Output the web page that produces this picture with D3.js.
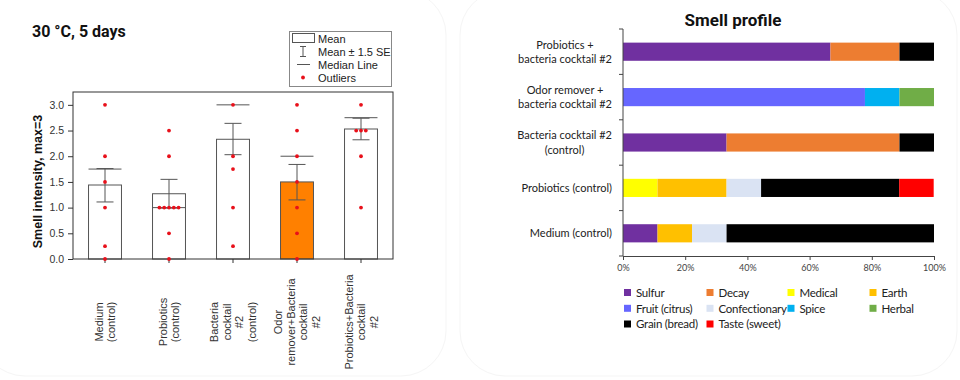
<!DOCTYPE html>
<html><head><meta charset="utf-8">
<script src="https://cdn.jsdelivr.net/npm/d3@7"></script>
<style>
html,body{margin:0;padding:0;background:#fff;}
svg{display:block;}
</style></head>
<body>
<svg id="c" width="960" height="380"></svg>
<script>
// ---------- Left chart data ----------
const boxCategories = ["Medium\n(control)", "Probiotics\n(control)", "Bacteria\ncocktail\n#2\n(control)", "Odor\nremover+Bacteria\ncocktail\n#2", "Probiotics+Bacteria\ncocktail\n#2"];
const boxMeans   = [1.44, 1.27, 2.33, 1.50, 2.53];
const boxSeLow   = [1.11, 0.99, 2.03, 1.15, 2.32];
const boxSeHigh  = [1.76, 1.55, 2.64, 1.84, 2.74];
const boxMedians = [1.75, 1.00, 3.00, 2.00, 2.75];
const boxPoints  = [
  [3.0, 2.0, 1.5, 1.0, 0.25, 0.0],
  [2.5, 2.0, 1.0, 1.0, 1.0, 1.0, 1.0, 0.5, 0.0],
  [3.0, 2.0, 1.75, 1.0, 0.25],
  [3.0, 2.5, 2.0, 1.5, 1.0, 0.5, 0.0],
  [3.0, 2.5, 2.5, 2.5, 2.0, 1.0]
];
const highlightIndex = 3;
const yTicks = [0, 0.5, 1.0, 1.5, 2.0, 2.5, 3.0];
const leftLegend = ["Mean", "Mean ± 1.5 SE", "Median Line", "Outliers"];

// ---------- Right chart data ----------
const profileGroups = ["Probiotics +\nbacteria cocktail #2", "Odor remover +\nbacteria cocktail #2", "Bacteria cocktail #2\n(control)", "Probiotics (control)", "Medium (control)"];
const smellNames  = ["Sulfur", "Decay", "Medical", "Earth", "Fruit (citrus)", "Confectionary", "Spice", "Herbal", "Grain (bread)", "Taste (sweet)"];
const smellColors = ["#7030A0", "#ED7D31", "#FFFF00", "#FFC000", "#6666FF", "#DAE3F3", "#00B0F0", "#70AD47", "#000000", "#FF0000"];
// percentages per group, in smellNames order
const sulfur        = [66.7,  0.0, 33.3,  0.0, 11.1];
const decay         = [22.2,  0.0, 55.6,  0.0,  0.0];
const medical       = [ 0.0,  0.0,  0.0, 11.1,  0.0];
const earth         = [ 0.0,  0.0,  0.0, 22.2, 11.1];
const fruit         = [ 0.0, 77.8,  0.0,  0.0,  0.0];
const confectionary = [ 0.0,  0.0,  0.0, 11.1, 11.1];
const spice         = [ 0.0, 11.1,  0.0,  0.0,  0.0];
const herbal        = [ 0.0, 11.1,  0.0,  0.0,  0.0];
const grain         = [11.1,  0.0, 11.1, 44.4, 66.7];
const taste         = [ 0.0,  0.0,  0.0, 11.1,  0.0];
const xTicksPct = [0, 20, 40, 60, 80, 100];

const svg = d3.select("#c");

// faint background panels
svg.append("rect").attr("x", -20).attr("y", -10).attr("width", 466).attr("height", 386).attr("rx", 45)
  .attr("fill", "none").attr("stroke", "#f5f5f5").attr("stroke-width", 1);
svg.append("rect").attr("x", 460).attr("y", -10).attr("width", 497).attr("height", 386).attr("rx", 45)
  .attr("fill", "none").attr("stroke", "#f5f5f5").attr("stroke-width", 1);

// ================= LEFT CHART =================
const L = {left: 73, right: 393, top: 92, bottom: 259};
const xB = d3.scaleBand().domain(d3.range(boxCategories.length)).range([L.left, L.right]).paddingInner(0).paddingOuter(0);
const yB = d3.scaleLinear().domain([0, 3.25]).range([L.bottom, L.top]);
const barW = xB.bandwidth() * 0.515;
const capW = 17;
const gray = "#555";

svg.append("text").attr("x", 32).attr("y", 37).attr("font-family", "Roboto, 'Liberation Sans', sans-serif")
  .attr("font-weight", "bold").attr("font-size", 16).attr("fill", "#111").text("30 °C, 5 days");

const gL = svg.append("g");
// bars
gL.selectAll("rect.bar").data(boxMeans).join("rect")
  .attr("x", (d, i) => xB(i) + xB.bandwidth() / 2 - barW / 2)
  .attr("y", d => yB(d)).attr("width", barW).attr("height", d => yB(0) - yB(d))
  .attr("fill", (d, i) => i === highlightIndex ? "#FF8000" : "#fff")
  .attr("stroke", gray).attr("stroke-width", 1);
// error bars
boxMeans.forEach((m, i) => {
  const cx = xB(i) + xB.bandwidth() / 2;
  gL.append("line").attr("x1", cx).attr("x2", cx).attr("y1", yB(boxSeLow[i])).attr("y2", yB(boxSeHigh[i])).attr("stroke", gray);
  [boxSeLow[i], boxSeHigh[i]].forEach(v => {
    gL.append("line").attr("x1", cx - capW / 2).attr("x2", cx + capW / 2).attr("y1", yB(v)).attr("y2", yB(v)).attr("stroke", gray);
  });
  gL.append("line").attr("x1", cx - barW / 2).attr("x2", cx + barW / 2).attr("y1", yB(boxMedians[i])).attr("y2", yB(boxMedians[i])).attr("stroke", gray);
});
// frame
gL.append("rect").attr("x", L.left).attr("y", L.top).attr("width", L.right - L.left).attr("height", L.bottom - L.top)
  .attr("fill", "none").attr("stroke", "#333").attr("stroke-width", 1);
// y axis
const yAx = gL.append("g").attr("transform", `translate(${L.left},0)`)
  .call(d3.axisLeft(yB).tickValues(yTicks).tickFormat(d3.format(".1f")).tickSize(5).tickSizeOuter(0));
yAx.select(".domain").remove();
yAx.selectAll("line").attr("stroke", "#333");
yAx.selectAll("text").attr("font-family", "'Liberation Sans', Arial, sans-serif").attr("font-size", 10.5).attr("fill", "#333").attr("dx", -1);
// x axis ticks
const xAx = gL.append("g").attr("transform", `translate(0,${L.bottom})`)
  .call(d3.axisBottom(xB).tickSize(4).tickSizeOuter(0).tickFormat(""));
xAx.select(".domain").remove();
xAx.selectAll("line").attr("stroke", "#333");
// x labels (rotated, multi-line)
boxCategories.forEach((lab, i) => {
  const lines = lab.split("\n");
  const cx = xB(i) + xB.bandwidth() / 2;
  lines.forEach((ln, k) => {
    const x = cx + (k - (lines.length - 1) / 2) * 12.5 + 4;
    gL.append("text").attr("transform", `translate(${x},322) rotate(-90)`)
      .attr("text-anchor", "middle").attr("font-family", "'Liberation Sans', Arial, sans-serif")
      .attr("font-size", 11).attr("fill", "#333").text(ln);
  });
});
// points
boxPoints.forEach((pts, i) => {
  const cx = xB(i) + xB.bandwidth() / 2;
  const counts = d3.rollup(pts, v => v.length, d => d);
  const seen = new Map();
  pts.forEach(v => {
    const n = counts.get(v);
    const k = seen.get(v) || 0; seen.set(v, k + 1);
    gL.append("circle").attr("cx", cx + (k - (n - 1) / 2) * 4.8).attr("cy", yB(v)).attr("r", 1.9).attr("fill", "#E8101A");
  });
});
// y label
gL.append("text").attr("transform", `translate(42,${(L.top + L.bottom) / 2 + 6}) rotate(-90)`)
  .attr("text-anchor", "middle").attr("font-family", "'Liberation Sans', Arial, sans-serif")
  .attr("font-weight", "bold").attr("font-size", 12.5).attr("fill", "#111").text("Smell intensity, max=3");
// legend
const lg = gL.append("g");
lg.append("rect").attr("x", 289.5).attr("y", 31.5).attr("width", 102).attr("height", 55).attr("fill", "#fff").attr("stroke", "#888");
const lgY = [39, 52, 64.5, 77.5];
lg.append("rect").attr("x", 292.5).attr("y", 33.5).attr("width", 22).attr("height", 9).attr("fill", "#fff").attr("stroke", gray);
lg.append("line").attr("x1", 303).attr("x2", 303).attr("y1", 46.5).attr("y2", 56.5).attr("stroke", gray);
lg.append("line").attr("x1", 300).attr("x2", 306).attr("y1", 46.5).attr("y2", 46.5).attr("stroke", gray);
lg.append("line").attr("x1", 300).attr("x2", 306).attr("y1", 56.5).attr("y2", 56.5).attr("stroke", gray);
lg.append("line").attr("x1", 297).attr("x2", 310).attr("y1", lgY[2]).attr("y2", lgY[2]).attr("stroke", gray);
lg.append("circle").attr("cx", 303).attr("cy", lgY[3]).attr("r", 1.9).attr("fill", "#E8101A");
lg.selectAll("text").data(leftLegend).join("text").attr("x", 318).attr("y", (d, i) => lgY[i] + 4)
  .attr("font-family", "'Liberation Sans', Arial, sans-serif").attr("font-size", 11).attr("fill", "#222").text(d => d);

// ================= RIGHT CHART =================
const R = {left: 623, right: 934, top: 29, bottom: 256};
const xR = d3.scaleLinear().domain([0, 100]).range([R.left, R.right]);
const yR = d3.scaleBand().domain(d3.range(profileGroups.length)).range([R.top, R.bottom]).paddingInner(0.6).paddingOuter(0.3);
const rightFont = "Lato, 'Open Sans', sans-serif";
const series = [sulfur, decay, medical, earth, fruit, confectionary, spice, herbal, grain, taste];

svg.append("text").attr("x", 733).attr("y", 26).attr("text-anchor", "middle")
  .attr("font-family", "Roboto, sans-serif").attr("font-weight", "bold").attr("font-size", 17).attr("fill", "#111").text("Smell profile");

const gR = svg.append("g");
const rows = profileGroups.map((g, i) => {
  const o = {i};
  smellNames.forEach((s, j) => o[s] = series[j][i]);
  return o;
});
const stacked = d3.stack().keys(smellNames)(rows);
gR.selectAll("g.s").data(stacked).join("g").attr("fill", (d, j) => smellColors[j])
  .selectAll("rect").data(d => d.filter(p => p[1] - p[0] > 0)).join("rect")
  .attr("x", p => xR(p[0])).attr("width", p => xR(p[1]) - xR(p[0]))
  .attr("y", p => yR(p.data.i)).attr("height", yR.bandwidth());

// axes
const boundaries = d3.range(profileGroups.length + 1).map(k => R.bottom - k * (R.bottom - R.top) / profileGroups.length);
gR.append("line").attr("x1", R.left).attr("x2", R.left).attr("y1", R.top).attr("y2", R.bottom).attr("stroke", "#444");
boundaries.forEach(b => gR.append("line").attr("x1", R.left - 4).attr("x2", R.left).attr("y1", b).attr("y2", b).attr("stroke", "#444"));
const xAxR = gR.append("g").attr("transform", `translate(0,${R.bottom})`)
  .call(d3.axisBottom(xR).tickValues(xTicksPct).tickFormat(d => d + "%").tickSize(4).tickSizeOuter(0));
xAxR.select(".domain").attr("stroke", "#444");
xAxR.selectAll("line").attr("stroke", "#444");
xAxR.selectAll("text").attr("font-family", rightFont).attr("font-size", 9).attr("fill", "#444").attr("dy", "0.85em");

// category labels
profileGroups.forEach((lab, i) => {
  const lines = lab.split("\n");
  const cy = yR(i) + yR.bandwidth() / 2;
  const t = gR.append("g");
  const texts = lines.map((ln, k) => t.append("text")
    .attr("y", cy + (k - (lines.length - 1) / 2) * 14.3 + 4)
    .attr("font-family", rightFont).attr("font-size", 11).attr("fill", "#222").attr("text-anchor", "middle").text(ln));
  const maxW = d3.max(texts, tx => tx.node().getComputedTextLength());
  texts.forEach(tx => tx.attr("x", 612 - maxW / 2));
});

// legend
const legCols = [627.5, 710, 791, 873];
const legRows = [292.5, 308.3, 324];
smellNames.forEach((s, j) => {
  const c = j % 4, r = Math.floor(j / 4);
  gR.append("rect").attr("x", legCols[c] - 3.5).attr("y", legRows[r] - 3.5).attr("width", 7).attr("height", 7).attr("fill", smellColors[j]);
  gR.append("text").attr("x", legCols[c] + 8.5).attr("y", legRows[r] + 4.2).attr("font-family", rightFont)
    .attr("font-size", 11.5).attr("letter-spacing", -0.25).attr("fill", "#222").text(s);
});
</script>
</body></html>
